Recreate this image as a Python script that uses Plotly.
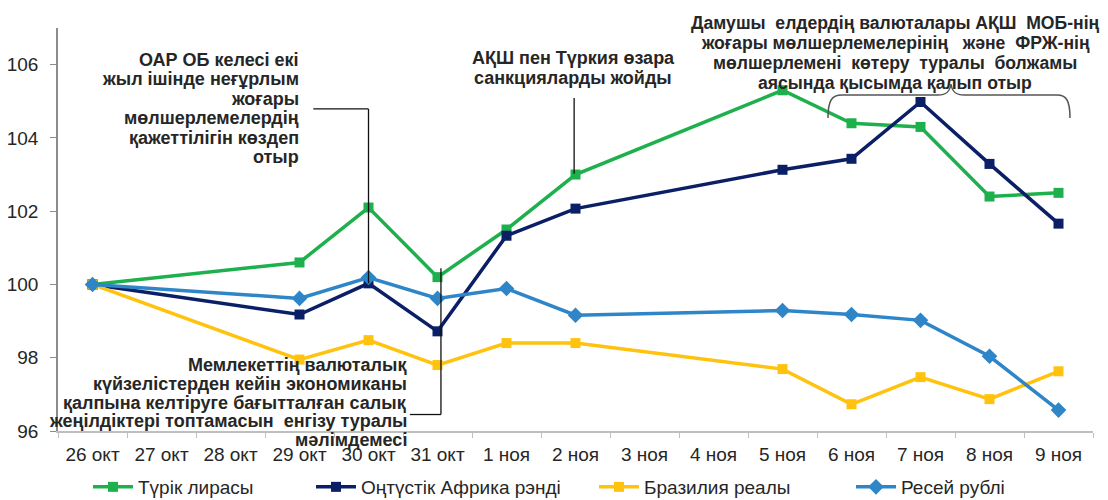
import plotly.graph_objects as go

categories = ["26 окт", "27 окт", "28 окт", "29 окт", "30 окт", "31 окт", "1 ноя",
              "2 ноя", "3 ноя", "4 ноя", "5 ноя", "6 ноя", "7 ноя", "8 ноя", "9 ноя"]
try_lira = [100.0, None, None, 100.6, 102.1, 100.2, 101.5, 103.0, None, None, 105.3, 104.4, 104.3, 102.4, 102.5]
zar_rand = [100.0, None, None, 99.18, 100.03, 98.72, 101.33, 102.07, None, None, 103.13, 103.43, 104.98, 103.29, 101.66]
brl_real = [100.0, None, None, 97.95, 98.48, 97.8, 98.4, 98.4, None, None, 97.69, 96.73, 97.47, 96.87, 97.63]
rub_ruble = [100.0, None, None, 99.62, 100.19, 99.62, 99.89, 99.16, None, None, 99.29, 99.18, 99.02, 98.04, 96.57]

series_names = ["Түрік лирасы", "Оңтүстік Африка рэнді", "Бразилия реалы", "Ресей рублі"]
series_values = [try_lira, zar_rand, brl_real, rub_ruble]
colors = ["#1fb04e", "#0b1f66", "#ffc20e", "#2e86c8"]
symbols = ["square", "square", "square", "diamond"]
legends = ["legend", "legend2", "legend3", "legend4"]

note1 = ["ОАР ОБ келесі екі", "жыл ішінде неғұрлым", "жоғары", "мөлшерлемелердің",
         "қажеттілігін көздеп", "отыр"]
note2 = ["Мемлекеттің валюталық", "күйзелістерден кейін экономиканы",
         "қалпына келтіруге бағытталған салық", "жеңілдіктері топтамасын  енгізу туралы",
         "мәлімдемесі"]
note3 = ["АҚШ пен Түркия өзара", "санкцияларды жойды"]
note4 = ["Дамушы  елдердің валюталары АҚШ  МОБ-нің", "жоғары мөлшерлемелерінің   және  ФРЖ-нің",
         "мөлшерлемені  көтеру  туралы  болжамы", "аясында қысымда қалып отыр"]

FONT = "Liberation Sans, Arial, sans-serif"
TXT = "#262626"

fig = go.Figure()
for name, vals, col, sym, lg in zip(series_names, series_values, colors, symbols, legends):
    fig.add_trace(go.Scatter(
        x=categories, y=vals, name=name, mode="lines+markers",
        connectgaps=True, legend=lg,
        line=dict(color=col, width=3.5),
        marker=dict(symbol=sym, size=10 if sym == "square" else 12, color=col),
    ))


def px(xp):
    return (xp - 58) / 1035.0


def py(yp):
    return (431 - yp) / 403.0


annotations = []


def add_block(lines, xpix, anchor, y0, dy, size=18):
    for i, t in enumerate(lines):
        annotations.append(dict(
            x=px(xpix), y=py(y0 + i * dy), xref="paper", yref="paper",
            xanchor=anchor, yanchor="middle", align=anchor,
            text=t, showarrow=False,
            font=dict(family=FONT, size=size, color=TXT, weight="bold")))


add_block(note1, 301, "right", 60, 19.4)
add_block(note2, 409, "right", 365, 18.8)
add_block(note3, 573, "center", 58, 19.5)
add_block(note4, 895, "center", 23, 20, size=17.6)

line_style = dict(color="#111111", width=1.3)
shapes = [
    # leader 1
    dict(type="line", xref="x", yref="y", x0=3.2, x1=4.0, y0=104.79, y1=104.79, line=line_style),
    dict(type="line", xref="x", yref="y", x0=4.0, x1=4.0, y0=104.79, y1=100.03, line=line_style),
    # leader 2
    dict(type="line", xref="x", yref="y", x0=5.05, x1=5.05, y0=100.44, y1=96.45, line=line_style),
    dict(type="line", xref="x", yref="y", x0=4.6, x1=5.05, y0=96.45, y1=96.45, line=line_style),
    # leader 3
    dict(type="line", xref="x", yref="y", x0=6.98, x1=6.98, y0=105.09, y1=103.02, line=line_style),
]

brace = (f"M {px(828)},{py(118)} C {px(828)},{py(100)} {px(832)},{py(95)} {px(842)},{py(95)} "
         f"L {px(938)},{py(95)} C {px(946)},{py(95)} {px(950)},{py(92)} {px(951)},{py(84)} "
         f"C {px(952)},{py(92)} {px(956)},{py(95)} {px(964)},{py(95)} "
         f"L {px(1057)},{py(95)} C {px(1066)},{py(95)} {px(1070)},{py(100)} {px(1070)},{py(118)}")
shapes.append(dict(type="path", xref="paper", yref="paper", path=brace,
                   line=dict(color="#555555", width=1.5)))

leg_common = dict(orientation="h", yanchor="middle", y=py(487), xanchor="left",
                  font=dict(family=FONT, size=19, color=TXT), bgcolor="rgba(0,0,0,0)",
                  itemwidth=40)

fig.update_layout(
    width=1108, height=500,
    margin=dict(l=58, r=15, t=28, b=69, autoexpand=False),
    plot_bgcolor="white", paper_bgcolor="white",
    font=dict(family=FONT, size=19, color=TXT),
    showlegend=True,
    legend=dict(x=px(88), **leg_common),
    legend2=dict(x=px(311), **leg_common),
    legend3=dict(x=px(594), **leg_common),
    legend4=dict(x=px(851), **leg_common),
    annotations=annotations,
    shapes=shapes,
    xaxis=dict(
        type="category", categoryorder="array", categoryarray=categories,
        range=[-0.5, 14.5], showgrid=False, zeroline=False, automargin=False,
        showline=True, linecolor="#bfbfbf", linewidth=1.5,
        ticks="outside", tickson="boundaries", ticklen=5, tickcolor="#bfbfbf",
        ticklabelstandoff=5,
        tickfont=dict(family=FONT, size=19, color=TXT),
    ),
    yaxis=dict(
        range=[96, 107], tickvals=[96, 98, 100, 102, 104, 106],
        showgrid=False, zeroline=False, automargin=False,
        showline=True, linecolor="#8c8c8c", linewidth=1.5,
        ticks="outside", ticklen=6, tickcolor="#8c8c8c",
        ticklabelstandoff=8,
        tickfont=dict(family=FONT, size=19, color=TXT),
    ),
)

fig.write_html("out.html", config={"displayModeBar": False},
               post_script="document.body.style.margin='0px';")
